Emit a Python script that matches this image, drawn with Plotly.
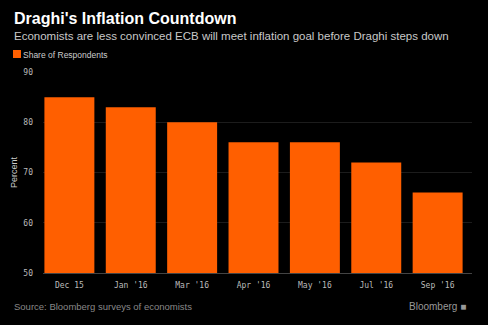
import plotly.graph_objects as go

categories = ["Dec 15", "Jan '16", "Mar '16", "Apr '16", "May '16", "Jul '16", "Sep '16"]
share = [85, 83, 80, 76, 76, 72, 66]
y_ticks = [50, 60, 70, 80, 90]

W, H = 488, 325
ml, mr, mt, mb = 43, 16, 72, 52
pw, ph = W - ml - mr, H - mt - mb

fig = go.Figure()
fig.add_trace(go.Bar(x=categories, y=share, name="Share of Respondents",
                     marker=dict(color="#ff5f00", line=dict(width=0)), width=0.814))

fig.update_layout(
    width=W, height=H,
    paper_bgcolor="black", plot_bgcolor="black",
    margin=dict(l=ml, r=mr, t=mt, b=mb, autoexpand=False),
    showlegend=False,
    xaxis=dict(range=[-0.43, 6.56], tickfont=dict(family="DejaVu Sans Mono", size=8, color="#bbbbbb"),
               showgrid=False, ticks="", showline=True, linecolor="#444444", linewidth=1,
               ticklabelstandoff=4),
    yaxis=dict(range=[50, 90], tickvals=y_ticks, tickfont=dict(family="DejaVu Sans Mono", size=8, color="#bbbbbb"),
               gridcolor="#1c1c1c", zeroline=False, ticks="", ticklabelstandoff=9,
               title=dict(text="Percent", font=dict(family="Liberation Sans", size=9, color="#cccccc"), standoff=4)),
    font=dict(family="Liberation Sans", color="#cccccc"),
)

def px(xp, yp):
    return (xp - ml) / pw, 1 - (yp - mt) / ph

texts = [
    ("<b>Draghi's Inflation Countdown</b>", 12, 8, "left", 16, "white"),
    ("Economists are less convinced ECB will meet inflation goal before Draghi steps down", 12, 28, "left", 11.5, "#c8c8c8"),
    ("Share of Respondents", 21, 48, "left", 8.5, "#cccccc"),
    ("Source: Bloomberg surveys of economists", 12, 299, "left", 9.5, "#888888"),
    ("Bloomberg \u25a0", 468, 299, "right", 10, "#999999"),
]
for t, xp, yp, anc, sz, col in texts:
    x, y = px(xp, yp)
    fig.add_annotation(text=t, xref="paper", yref="paper", x=x, y=y, xanchor=anc, yanchor="top",
                       showarrow=False, font=dict(family="Liberation Sans", size=sz, color=col))

x0, y0 = px(13, 50)
x1, y1 = px(21, 58)
fig.add_shape(type="rect", xref="paper", yref="paper", x0=x0, x1=x1, y0=y1, y1=y0,
              fillcolor="#ff5f00", line=dict(width=0))

fig.write_html("out.html")
